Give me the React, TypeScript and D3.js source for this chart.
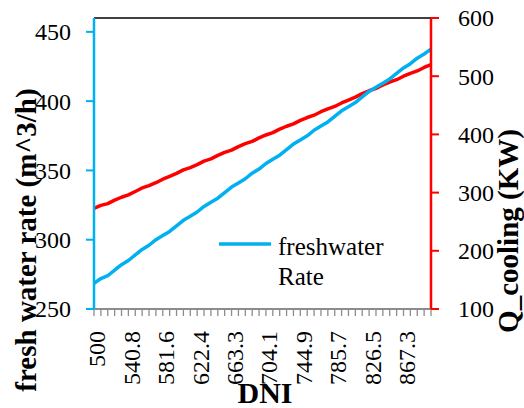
import React from "react";
import * as d3 from "d3";

const dni = [
  "500", "508.2", "516.3", "524.5", "532.7", "540.8", "549", "557.1", "565.3", "573.5",
  "581.6", "589.8", "598", "606.1", "614.3", "622.4", "630.6", "638.8", "646.9", "655.1",
  "663.3", "671.4", "679.6", "687.8", "695.9", "704.1", "712.2", "720.4", "728.6", "736.7",
  "744.9", "753.1", "761.2", "769.4", "777.6", "785.7", "793.9", "802", "810.2", "818.4",
  "826.5", "834.7", "842.9", "851", "859.2", "867.3", "875.5", "883.7", "891.8", "900",
];

const freshwaterRate = [
  268.5, 272, 274, 278, 282, 285, 289, 293, 296, 300,
  303, 306, 310, 314, 317, 320, 324, 327, 330, 334,
  338, 341, 344, 348, 351, 355, 358, 361, 365, 369,
  372, 375, 379, 382, 385, 389, 393, 396, 399, 403,
  407, 410, 413, 416, 420, 424, 427, 431, 434, 437.5,
];

const qCooling = [
  273, 278, 281, 287, 292, 296, 302, 308, 312, 317,
  323, 328, 333, 339, 343, 348, 354, 358, 364, 369,
  373, 379, 384, 388, 394, 399, 403, 409, 414, 418,
  424, 429, 433, 439, 444, 448, 454, 459, 464, 470,
  475, 479, 485, 490, 494, 500, 505, 509, 515, 520,
];

const leftTicks = [250, 300, 350, 400, 450];
const rightTicks = [100, 200, 300, 400, 500, 600];

const BLUE = "#00B0F0";
const RED = "#FF0000";
const FONT = "'Liberation Serif', 'Times New Roman', serif";

export default function App() {
  const left = 94;
  const right = 431;
  const top = 18;
  const bottom = 309;

  const x = d3.scalePoint<string>().domain(dni).range([left, right]);
  const yL = d3.scaleLinear().domain([250, 460]).range([bottom, top]);
  const yR = d3.scaleLinear().domain([100, 600]).range([bottom, top]);

  const lineL = d3
    .line<number>()
    .x((_, i) => x(dni[i]) as number)
    .y((d) => yL(d));
  const lineR = d3
    .line<number>()
    .x((_, i) => x(dni[i]) as number)
    .y((d) => yR(d));

  return (
    <svg
      width={524}
      height={408}
      style={{ position: "fixed", left: 0, top: 0, background: "#fff" }}
      fontFamily={FONT}
    >
      <rect x={0} y={0} width={524} height={408} fill="#fff" />
      {/* top border */}
      <line x1={left} x2={right} y1={top} y2={top} stroke="#000" strokeWidth={1.5} />
      {/* x axis */}
      <line x1={left} x2={right} y1={bottom} y2={bottom} stroke="#8c8c8c" strokeWidth={2} />
      {dni.map((d) => (
        <line
          key={"t" + d}
          x1={x(d)}
          x2={x(d)}
          y1={bottom}
          y2={bottom + 7}
          stroke="#8c8c8c"
          strokeWidth={1.3}
        />
      ))}
      {dni.map((d, i) =>
        i % 5 === 0 ? (
          <text
            key={"l" + d}
            transform={`translate(${(x(d) as number) + 3},331) rotate(-90)`}
            textAnchor="end"
            dy="0.35em"
            fontSize={24}
            fill="#000"
          >
            {d}
          </text>
        ) : null
      )}

      {/* lines */}
      <path d={lineR(qCooling) || ""} fill="none" stroke={RED} strokeWidth={3.5} strokeLinejoin="round" />
      <path d={lineL(freshwaterRate) || ""} fill="none" stroke={BLUE} strokeWidth={3.5} strokeLinejoin="round" />

      {/* left axis */}
      <line x1={left} x2={left} y1={top} y2={bottom} stroke={BLUE} strokeWidth={2.5} />
      {leftTicks.map((t) => (
        <g key={"lt" + t}>
          <line x1={left - 8} x2={left} y1={yL(t)} y2={yL(t)} stroke={BLUE} strokeWidth={2} />
          <text x={71} y={yL(t)} dy="0.35em" textAnchor="end" fontSize={24} fill="#000">
            {t}
          </text>
        </g>
      ))}

      {/* right axis */}
      <line x1={right} x2={right} y1={top} y2={bottom} stroke={RED} strokeWidth={2.5} />
      {rightTicks.map((t) => (
        <g key={"rt" + t}>
          <line x1={right} x2={right + 8} y1={yR(t)} y2={yR(t)} stroke={RED} strokeWidth={2} />
          <text x={458} y={yR(t)} dy="0.35em" textAnchor="start" fontSize={24} fill="#000">
            {t}
          </text>
        </g>
      ))}

      {/* axis titles */}
      <text
        transform="translate(26,240) rotate(-90)"
        textAnchor="middle"
        dy="0.35em"
        fontSize={29}
        fontWeight="bold"
        fill="#000"
      >
        fresh water rate (m^3/h)
      </text>
      <text
        transform="translate(508,231) rotate(-90)"
        textAnchor="middle"
        dy="0.35em"
        fontSize={29}
        fontWeight="bold"
        fill="#000"
      >
        Q_cooling (KW)
      </text>
      <text x={265} y={403} textAnchor="middle" fontSize={30} fontWeight="bold" fill="#000">
        DNI
      </text>

      {/* legend */}
      <line x1={219} x2={271} y1={244} y2={244} stroke={BLUE} strokeWidth={3.5} />
      <text x={278} y={255} fontSize={25} fill="#000">
        freshwater
      </text>
      <text x={278} y={285} fontSize={25} fill="#000">
        Rate
      </text>
    </svg>
  );
}
